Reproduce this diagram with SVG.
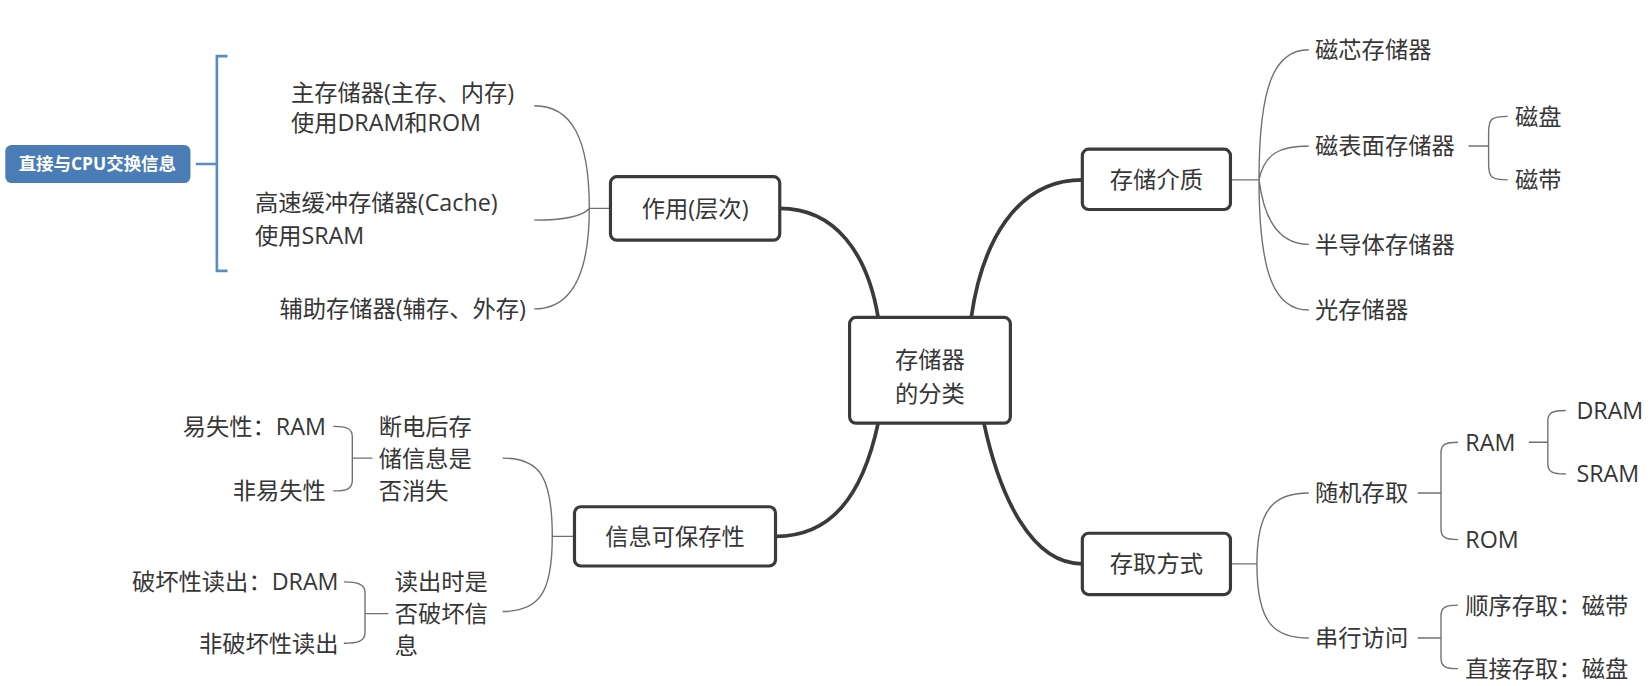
<svg xmlns="http://www.w3.org/2000/svg" width="1651" height="686" viewBox="0 0 1651 686">
<style>
text{font-family:"Open Sans","Noto Sans CJK SC",sans-serif;font-size:22px;fill:#363636}
.c{text-anchor:middle}
.e{text-anchor:end}
.node{fill:#fff;stroke:#3a3a3a;stroke-width:3}
.thick{fill:none;stroke:#3a3a3a;stroke-width:3.5}
.thin{fill:none;stroke:#707070;stroke-width:1.3}
.blue{fill:none;stroke:#5a8cc2;stroke-width:2.5}
.tag{fill:#fff;font-size:16.5px;font-weight:bold}
</style>
<rect width="1651" height="686" fill="#fff"/>
<g transform="scale(1.058)">
<g id="connectors">
<path class="thick" d="M737 197 C790 197 820 240 830 300"/>
<path class="thick" d="M918 300 C928 230 960 170 1023 170"/>
<path class="thick" d="M930 400 C945 470 975 533 1023 533"/>
<path class="thick" d="M830 400 C815 470 785 507 733 507"/>
<path class="thin" d="M577 197 H557 M505 100 C540 100 557 130 557 197 M505 292 C540 292 557 260 557 197 M505 208 C530 208 550 205 557 197"/>
<path class="thin" d="M1163 170 H1190 M1190 170 C1190 80 1205 47 1237 47 M1190 170 C1195 145 1210 138 1237 138 M1190 170 C1195 210 1210 231 1237 231 M1190 170 C1190 260 1205 293 1237 293"/>
<path class="thin" d="M1388 138 H1407 M1425 110 C1410 110 1407 112 1407 125 V155 C1407 168 1410 170 1425 170"/>
<path class="thin" d="M1163 533 H1188 M1188 533 C1188 480 1205 466 1237 466 M1188 533 C1188 590 1205 603 1237 603"/>
<path class="thin" d="M1340 466 H1362 M1378 418 C1366 418 1362 420 1362 428 V500 C1362 508 1366 510 1378 510"/>
<path class="thin" d="M1445 418 H1463 M1480 388 C1467 388 1463 390 1463 398 V438 C1463 446 1467 448 1480 448"/>
<path class="thin" d="M1340 603 H1362 M1378 572 C1366 572 1362 574 1362 582 V622 C1362 630 1366 632 1378 632"/>
<path class="thin" d="M543 507 H522 M522 507 C522 450 510 433 475 433 M522 507 C522 560 510 578 475 578"/>
<path class="thin" d="M315 403 C328 403 333 405 333 413 V454 C333 462 328 464 315 464 M333 433 H352"/>
<path class="thin" d="M325 550 C338 550 345 552 345 560 V598 C345 606 338 608 325 608 M345 580 H367"/>
<path class="blue" d="M185 155 H205 M215 53 H205 V256 H215"/>
</g>
<g id="tag">
<rect x="5" y="137" width="175" height="36" rx="6" fill="#4a7db5"/>
<text class="tag c" x="92" y="161">直接与CPU交换信息</text>
</g>
<g id="center">
<rect class="node" x="803" y="300" width="152" height="100" rx="6"/>
<text class="c" x="879" y="348">存储器</text>
<text class="c" x="879" y="380">的分类</text>
</g>
<g id="zuoyong">
<rect class="node" x="577" y="167" width="160" height="60" rx="6"/>
<text class="c" x="657" y="205">作用(层次)</text>
</g>
<g id="zuoyong-children">
<text x="275" y="95">主存储器(主存、内存)</text>
<text x="275" y="124">使用DRAM和ROM</text>
<text x="241" y="199">高速缓冲存储器(Cache)</text>
<text x="241" y="231">使用SRAM</text>
<text class="e" x="497" y="300">辅助存储器(辅存、外存)</text>
</g>
<g id="jiezhi">
<rect class="node" x="1023" y="141" width="140" height="57" rx="6"/>
<text class="c" x="1093" y="178">存储介质</text>
</g>
<g id="jiezhi-children">
<text x="1243" y="55">磁芯存储器</text>
<text x="1243" y="146">磁表面存储器</text>
<text x="1432" y="118">磁盘</text>
<text x="1432" y="178">磁带</text>
<text x="1243" y="239">半导体存储器</text>
<text x="1243" y="301">光存储器</text>
</g>
<g id="cunqu">
<rect class="node" x="1023" y="504" width="140" height="58" rx="6"/>
<text class="c" x="1093" y="541">存取方式</text>
</g>
<g id="cunqu-children">
<text x="1243" y="474">随机存取</text>
<text x="1385" y="426">RAM</text>
<text x="1490" y="396">DRAM</text>
<text x="1490" y="456">SRAM</text>
<text x="1385" y="518">ROM</text>
<text x="1243" y="611">串行访问</text>
<text x="1385" y="580">顺序存取：磁带</text>
<text x="1385" y="640">直接存取：磁盘</text>
</g>
<g id="baocun">
<rect class="node" x="543" y="479" width="190" height="56" rx="6"/>
<text class="c" x="638" y="515">信息可保存性</text>
</g>
<g id="baocun-children">
<text x="358" y="411">断电后存</text>
<text x="358" y="441">储信息是</text>
<text x="358" y="472">否消失</text>
<text class="e" x="308" y="411">易失性：RAM</text>
<text class="e" x="308" y="472">非易失性</text>
<text x="373" y="558">读出时是</text>
<text x="373" y="588">否破坏信</text>
<text x="373" y="618">息</text>
<text class="e" x="320" y="558">破坏性读出：DRAM</text>
<text class="e" x="320" y="616">非破坏性读出</text>
</g>
</g>
</svg>
